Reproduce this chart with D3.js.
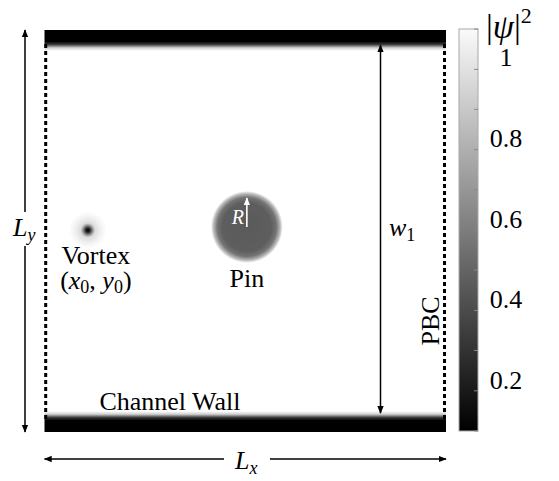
<!DOCTYPE html>
<html>
<head>
<meta charset="utf-8">
<script src="https://cdn.jsdelivr.net/npm/d3@7"></script>
<style>
  html, body { margin: 0; padding: 0; background: #fff; }
  svg { display: block; }
</style>
</head>
<body>
<div id="chart"></div>
<script>
// ---------- data (schematic in domain units: x in [0,Lx], y in [0,Ly], both normalised to 1) ----------
const domainX = [0, 1];
const domainY = [0, 1];
const wallThickness = [0.030, 0.022];        // [solid core, healing fade] in y units
const vortex = { x: 0.108, y: 0.502, core: 0.012, halo: 0.047 };
const pin = { x: 0.504, y: 0.510, r: 0.080 };
const colorbarDomain = [0.0735, 1.069];
const colorbarTickLabels = [1, 0.8, 0.6, 0.4, 0.2];
const colorbarMinorTicks = [0.0735, 0.173, 0.273, 0.372, 0.472, 0.571, 0.671, 0.770, 0.870, 0.969, 1.069];
const texts = { wall: "Channel Wall", vortex: "Vortex", pin: "Pin", pbc: "PBC" };

// ---------- layout ----------
const W = 559, H = 481;
const FONT = '"Liberation Serif"';
const FS = 26, SUB = 18;
const svg = d3.select("#chart").append("svg").attr("width", W).attr("height", H);
const defs = svg.append("defs");
function txt(sel) { return sel.append("text").style("font-family", FONT); }

const x = d3.scaleLinear().domain(domainX).range([44.5, 446]);
const y = d3.scaleLinear().domain(domainY).range([432, 30]);
const ky = Math.abs(y(1) - y(0));
const kx = Math.abs(x(1) - x(0));

// gradients
function wallGrad(id, y1, y2) {
  const g = defs.append("linearGradient").attr("id", id).attr("x1", 0).attr("x2", 0).attr("y1", y1).attr("y2", y2);
  [[0, "#000"], [0.3, "#444"], [0.65, "#d0d0d0"], [1, "#fff"]]
    .forEach(([o, c]) => g.append("stop").attr("offset", o).attr("stop-color", c));
}
wallGrad("gTop", 0, 1);
wallGrad("gBot", 1, 0);

const gVort = defs.append("radialGradient").attr("id", "gVort");
[[0, "#000"], [0.11, "#222"], [0.24, "#888"], [0.38, "#dcdcdc"], [0.7, "#f2f2f2"], [1, "#fff"]]
  .forEach(([o, c]) => gVort.append("stop").attr("offset", o).attr("stop-color", c));

const gPin = defs.append("radialGradient").attr("id", "gPin");
[[0, "#5a5a5a"], [0.68, "#5e5e5e"], [0.82, "#747474"], [0.92, "#b5b5b5"], [1, "#fff"]]
  .forEach(([o, c]) => gPin.append("stop").attr("offset", o).attr("stop-color", c));

const gCb = defs.append("linearGradient").attr("id", "gCb").attr("x1", 0).attr("x2", 0).attr("y1", 1).attr("y2", 0);
gCb.append("stop").attr("offset", 0).attr("stop-color", "#000");
gCb.append("stop").attr("offset", 1).attr("stop-color", "#fafafa");

// arrow markers
function marker(id, color) {
  defs.append("marker").attr("id", id).attr("viewBox", "0 0 10 10").attr("refX", 9).attr("refY", 5)
    .attr("markerWidth", 8).attr("markerHeight", 8).attr("markerUnits", "userSpaceOnUse")
    .attr("orient", "auto-start-reverse")
    .append("path").attr("d", "M0,1 L10,5 L0,9 Z").attr("fill", color);
}
marker("ah", "#000");
marker("ahw", "#fff");

// ---------- walls ----------
const solid = wallThickness[0] * ky, fade = wallThickness[1] * ky;
svg.append("rect").attr("x", x(0)).attr("y", y(1)).attr("width", kx).attr("height", solid).attr("fill", "#000");
svg.append("rect").attr("x", x(0)).attr("y", y(1) + solid).attr("width", kx).attr("height", fade).attr("fill", "url(#gTop)");
svg.append("rect").attr("x", x(0)).attr("y", y(0) - solid).attr("width", kx).attr("height", solid).attr("fill", "#000");
svg.append("rect").attr("x", x(0)).attr("y", y(0) - solid - fade).attr("width", kx).attr("height", fade).attr("fill", "url(#gBot)");

// periodic boundaries (dashed)
[0, 1].forEach(v => {
  svg.append("line")
    .attr("x1", x(v) + (v === 0 ? 1.2 : -1.5)).attr("x2", x(v) + (v === 0 ? 1.2 : -1.5))
    .attr("y1", y(1) + solid + 2).attr("y2", y(0) - solid)
    .attr("stroke", "#000").attr("stroke-width", 3).attr("stroke-dasharray", "4,3");
});

// ---------- vortex ----------
svg.append("circle").attr("cx", x(vortex.x)).attr("cy", y(vortex.y)).attr("r", vortex.halo * kx)
  .attr("fill", "url(#gVort)");
txt(svg).attr("x", x(vortex.x) + 8).attr("y", y(vortex.y) + 34)
  .attr("text-anchor", "middle").attr("font-size", FS).text(texts.vortex);
const vt = txt(svg).attr("x", x(vortex.x) + 8).attr("y", y(vortex.y) + 59)
  .attr("text-anchor", "middle").attr("font-size", FS);
vt.append("tspan").text("(");
vt.append("tspan").attr("font-style", "italic").text("x");
vt.append("tspan").attr("font-size", SUB).attr("dy", 4).text("0");
vt.append("tspan").attr("dy", -4).text(", ");
vt.append("tspan").attr("font-style", "italic").text("y");
vt.append("tspan").attr("font-size", SUB).attr("dy", 4).text("0");
vt.append("tspan").attr("dy", -4).text(")");

// ---------- pin ----------
const pcx = x(pin.x), pcy = y(pin.y), pr = pin.r * kx;
svg.append("circle").attr("cx", pcx).attr("cy", pcy).attr("r", pr * 1.12).attr("fill", "url(#gPin)");
svg.append("line").attr("x1", pcx).attr("x2", pcx).attr("y1", pcy).attr("y2", pcy - pr * 0.9)
  .attr("stroke", "#fff").attr("stroke-width", 1.6).attr("marker-end", "url(#ahw)");
txt(svg).attr("x", pcx - 3).attr("y", pcy - 3).attr("text-anchor", "end")
  .attr("font-size", 20).attr("font-style", "italic").attr("fill", "#fff").text("R");
txt(svg).attr("x", pcx).attr("y", pcy + 60).attr("text-anchor", "middle")
  .attr("font-size", FS).text(texts.pin);

// channel wall label
txt(svg).attr("x", 170).attr("y", 410).attr("text-anchor", "middle")
  .attr("font-size", FS).text(texts.wall);

// ---------- dimension arrows ----------
// L_y
svg.append("line").attr("x1", 25).attr("x2", 25).attr("y1", y(0)).attr("y2", y(1))
  .attr("stroke", "#000").attr("stroke-width", 1.5)
  .attr("marker-start", "url(#ah)").attr("marker-end", "url(#ah)");
svg.append("rect").attr("x", 11).attr("y", 212).attr("width", 30).attr("height", 34).attr("fill", "#fff");
const ly = txt(svg).attr("x", 13).attr("y", 236).attr("font-size", FS);
ly.append("tspan").attr("font-style", "italic").text("L");
ly.append("tspan").attr("font-style", "italic").attr("font-size", SUB).attr("dy", 5).text("y");

// L_x
svg.append("line").attr("x1", x(0)).attr("x2", x(1)).attr("y1", 459).attr("y2", 459)
  .attr("stroke", "#000").attr("stroke-width", 1.5)
  .attr("marker-start", "url(#ah)").attr("marker-end", "url(#ah)");
svg.append("rect").attr("x", 224).attr("y", 446).attr("width", 46).attr("height", 34).attr("fill", "#fff");
const lx = txt(svg).attr("x", 235).attr("y", 469).attr("font-size", FS);
lx.append("tspan").attr("font-style", "italic").text("L");
lx.append("tspan").attr("font-style", "italic").attr("font-size", SUB).attr("dy", 5).text("x");

// w_1
svg.append("line").attr("x1", 380.5).attr("x2", 380.5)
  .attr("y1", y(0) - solid - fade + 2).attr("y2", y(1) + solid + 3)
  .attr("stroke", "#000").attr("stroke-width", 1.5)
  .attr("marker-start", "url(#ah)").attr("marker-end", "url(#ah)");
const w1 = txt(svg).attr("x", 389).attr("y", 236).attr("font-size", FS);
w1.append("tspan").attr("font-style", "italic").text("w");
w1.append("tspan").attr("font-size", SUB).attr("dy", 5).text("1");

// PBC
txt(svg).attr("transform", "translate(439,321) rotate(-90)")
  .attr("text-anchor", "middle").attr("font-size", FS).text(texts.pbc);

// ---------- colorbar ----------
const cb = d3.scaleLinear().domain(colorbarDomain).range([431, 29]);
const cbx = 459, cbw = 19;
svg.append("rect").attr("x", cbx).attr("y", cb(colorbarDomain[1])).attr("width", cbw)
  .attr("height", cb(colorbarDomain[0]) - cb(colorbarDomain[1])).attr("fill", "url(#gCb)")
  .attr("stroke", "#a8a8a8").attr("stroke-width", 1);
svg.selectAll(".mt").data(colorbarMinorTicks).enter().append("line")
  .attr("x1", cbx + cbw - 4).attr("x2", cbx + cbw).attr("y1", d => cb(d)).attr("y2", d => cb(d))
  .attr("stroke", "#888").attr("stroke-width", 1);
const labScale = d3.scaleLinear().domain([0.2, 1]).range([380, 57]);
svg.selectAll(".cbl").data(colorbarTickLabels).enter().append("text")
  .style("font-family", FONT)
  .attr("x", 506).attr("y", d => labScale(d) + 9).attr("text-anchor", "middle")
  .attr("font-size", FS).text(d => d3.format("")(d));

const ttl = txt(svg).attr("x", 486).attr("y", 38).attr("font-size", 34);
ttl.append("tspan").text("|");
ttl.append("tspan").attr("font-style", "italic").text("ψ");
ttl.append("tspan").text("|");
ttl.append("tspan").attr("font-size", 22).attr("dy", -15).text("2");
</script>
</body>
</html>
